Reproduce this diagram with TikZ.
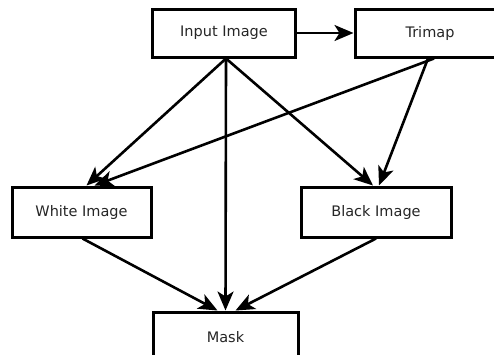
\documentclass[tikz,border=0pt]{standalone}
\usepackage{fontspec}
\setmainfont{DejaVu Sans}
\usetikzlibrary{arrows.meta}
\begin{document}
\begin{tikzpicture}[x=1pt,y=-1pt,
  box/.style={draw=black, line width=3pt, fill=white, rectangle, inner sep=0pt,
    minimum height=48pt, font=\fontsize{14.5}{17}\selectfont, text=black!85},
  arr/.style={line width=2.6pt, -{Stealth[length=19pt,width=16pt,inset=5pt]}}]
\clip (0,0) rectangle (494,354);
\useasboundingbox (0,0) rectangle (494,354);
\node[box, minimum width=143pt] (in) at (224,33) {Input Image};
\node[box, minimum width=150pt] (tri) at (430,33) {Trimap};
\node[box, minimum width=139pt, minimum height=50pt] (wh) at (81.5,212) {White Image};
\node[box, minimum width=150pt, minimum height=50pt] (bl) at (376,212) {Black Image};
\node[box, minimum width=145pt, minimum height=50pt] (mk) at (225.5,337) {Mask};
\draw[arr] (in) -- (tri);
\draw[arr] ([xshift=2pt]in.south) -- ([xshift=5pt]wh.north);
\draw[arr] ([xshift=4pt]tri.south) -- ([xshift=13pt]wh.north);
\draw[arr] ([xshift=2pt]in.south) -- ([xshift=0pt]mk.north);
\draw[arr] ([xshift=2pt]in.south) -- ([xshift=-3pt]bl.north);
\draw[arr] ([xshift=-2pt]tri.south) -- ([xshift=3pt]bl.north);
\draw[arr] ([xshift=1pt]wh.south) -- ([xshift=-8pt]mk.north);
\draw[arr] (bl.south) -- ([xshift=10pt]mk.north);
\end{tikzpicture}
\end{document}
